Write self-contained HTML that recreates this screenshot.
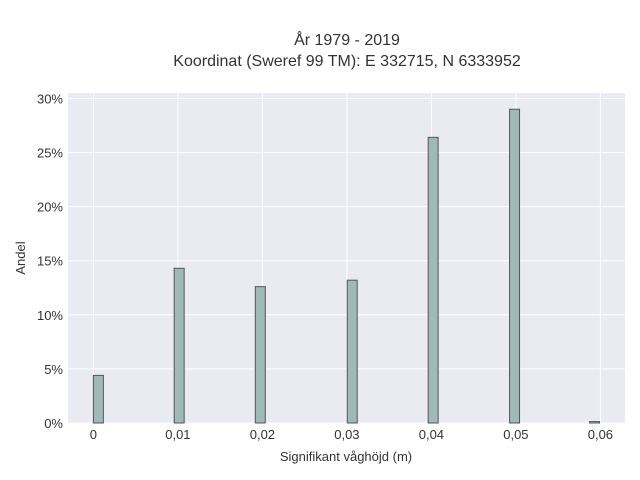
<!DOCTYPE html>
<html><head><meta charset="utf-8">
<style>
body{margin:0;background:#fff;}
svg{display:block;font-family:"Liberation Sans",sans-serif;}
</style></head>
<body>
<svg id="chart" width="640" height="480">
<rect x="0" y="0" width="640" height="480" fill="#fff"/>
<text x="347" y="45" text-anchor="middle" font-size="16" fill="#333">År 1979 - 2019</text>
<text x="347" y="66" text-anchor="middle" font-size="16" fill="#333">Koordinat (Sweref 99 TM): E 332715, N 6333952</text>
<rect x="68" y="93" width="557" height="330" fill="#eaeaf2"/>
<g id="grid"></g>
<g id="bars"></g>
<g id="ticks"></g>
<text x="346" y="461" text-anchor="middle" font-size="13" fill="#333">Signifikant våghöjd (m)</text>
<text transform="translate(25,258) rotate(-90)" text-anchor="middle" font-size="13" fill="#333">Andel</text>
</svg>
<script>
const binLefts = [0, 0.00956, 0.01916, 0.03004, 0.03962, 0.04925, 0.05872];
const shares = [4.4, 14.3, 12.6, 13.2, 26.4, 29.0, 0.13];
const binWidth = 0.00118;
const xTicks = [0, 0.01, 0.02, 0.03, 0.04, 0.05, 0.06];
const xTickLabels = ["0", "0,01", "0,02", "0,03", "0,04", "0,05", "0,06"];
const yTicks = [0, 5, 10, 15, 20, 25, 30];
const yTickLabels = ["0%", "5%", "10%", "15%", "20%", "25%", "30%"];

const NS = "http://www.w3.org/2000/svg";
const xs = v => 93.4 + v * 8450;
const ys = v => 423 - v * 10.82;
function mk(tag, attrs, parent){const e=document.createElementNS(NS,tag);for(const k in attrs)e.setAttribute(k,attrs[k]);parent.appendChild(e);return e;}
const grid=document.getElementById('grid'), bars=document.getElementById('bars'), ticks=document.getElementById('ticks');
xTicks.forEach((t,i)=>{
  const l=mk('line',{x1:xs(t),x2:xs(t),y1:93,y2:423,stroke:'#fff','stroke-width':1},grid);
  
  
  const tx=mk('text',{x:xs(t),y:439,'text-anchor':'middle','font-size':13,fill:'#333'},ticks);
  tx.textContent=xTickLabels[i];
  
  
});
yTicks.forEach((t,i)=>{
  const l=mk('line',{x1:68,x2:625,y1:ys(t),y2:ys(t),stroke:'#fff','stroke-width':1},grid);
  
  
  const tx=mk('text',{x:63,y:ys(t)+5,'text-anchor':'end','font-size':13,fill:'#333'},ticks);
  tx.textContent=yTickLabels[i];
  
  
});
binLefts.forEach((b,i)=>{
  const x0=xs(b), x1=xs(b+binWidth), y=ys(shares[i]);
  const r=mk('rect',{x:x0,y:y,width:x1-x0,height:423-y,fill:'#9fb8b8',stroke:'#555','stroke-width':1},bars);
  
  
});
</script>
</body></html>
